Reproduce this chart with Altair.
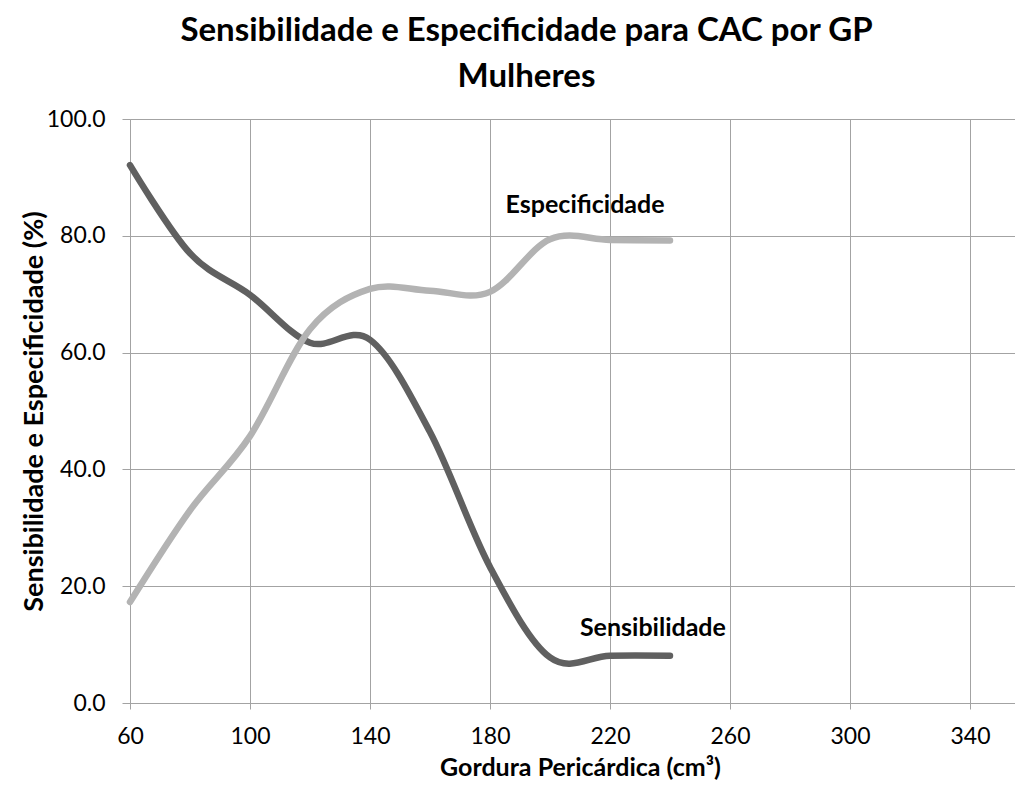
import altair as alt
import pandas as pd

gordura = [60, 80, 100, 120, 140, 160, 180, 200, 220, 240]
sensibilidade = [92.1, 77.0, 69.9, 61.7, 62.2, 46.4, 23.3, 7.8, 8.1, 8.1]
especificidade = [17.3, 33.0, 45.7, 64.0, 70.9, 70.6, 70.4, 79.4, 79.3, 79.2]

label_text = ["Especificidade", "Sensibilidade"]
label_x = [211.7, 234.3]
label_y = [85.3, 12.8]

x_ticks = [60, 100, 140, 180, 220, 260, 300, 340]
y_ticks = [0, 20, 40, 60, 80, 100]

FONT = "Lato"
GRID = "#a3a3a3"

rows = []
for g, s, e in zip(gordura, sensibilidade, especificidade):
    rows.append({"x": g, "y": s, "serie": "Sensibilidade"})
    rows.append({"x": g, "y": e, "serie": "Especificidade"})
df = pd.DataFrame(rows)
labels = pd.DataFrame({"x": label_x, "y": label_y, "t": label_text})

xscale = alt.Scale(domain=[60, 355], nice=False, zero=False)
yscale = alt.Scale(domain=[0, 100], nice=False)

lines = alt.Chart(df).mark_line(
    interpolate="cardinal", strokeWidth=6.5, strokeCap="round"
).encode(
    x=alt.X("x:Q", scale=xscale, axis=alt.Axis(
        values=x_ticks, title="Gordura Pericárdica (cm³)", format="d",
        labelFontSize=23, labelFont=FONT, labelColor="black", labelPadding=16,
        labelFlush=False,
        tickSize=6, tickColor=GRID, domainColor=GRID, gridColor=GRID,
        titleFont=FONT, titleFontSize=25, titleFontWeight="bold", titleColor="black",
        titleX=450, titleY=72, titleBaseline="alphabetic", titleAlign="center",
    )),
    y=alt.Y("y:Q", scale=yscale, axis=alt.Axis(
        values=y_ticks, title="Sensibilidade e Especificidade (%)", format=".1f",
        labelFontSize=23, labelFont=FONT, labelColor="black", labelPadding=17,
        labelFlush=False,
        tickSize=8, tickColor=GRID, domainColor=GRID, gridColor=GRID,
        titleFont=FONT, titleFontSize=27, titleFontWeight="bold", titleColor="black",
        titleX=-88, titleY=292, titleBaseline="alphabetic", titleAlign="center", titleAngle=270,
    )),
    color=alt.Color("serie:N", scale=alt.Scale(
        domain=["Sensibilidade", "Especificidade"], range=["#606060", "#b3b3b3"]), legend=None),
    detail="serie:N",
)

text = alt.Chart(labels).mark_text(
    font=FONT, fontSize=25, fontWeight="bold", color="black", align="center", baseline="middle"
).encode(x=alt.X("x:Q", scale=xscale), y=alt.Y("y:Q", scale=yscale), text="t:N")

chart = alt.layer(lines, text).properties(
    width=885, height=584,
    autosize=alt.AutoSizeParams(type="none"),
    padding={"left": 122, "top": 111, "right": 0, "bottom": 77},
    title=alt.TitleParams(
        text=["Sensibilidade e Especificidade para CAC por GP", "Mulheres"],
        font=FONT, fontSize=33, fontWeight="bold", color="black",
        anchor="middle", frame="group", dx=-46, dy=6, lineHeight=46, offset=20,
    ),
).configure_view(stroke=None).configure(background="white")

chart.save("out.html", embed_options={"renderer": "svg", "actions": False})
